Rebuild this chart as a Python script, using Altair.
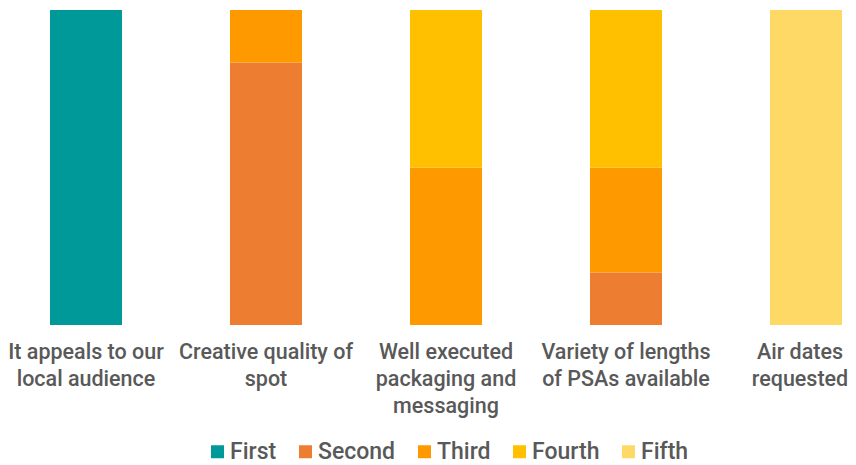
import altair as alt
import pandas as pd

categories = [
    "It appeals to our|local audience",
    "Creative quality of|spot",
    "Well executed|packaging and|messaging",
    "Variety of lengths|of PSAs available",
    "Air dates|requested",
]
ranks = ["First", "Second", "Third", "Fourth", "Fifth"]
colors = ["#009999", "#ED7D31", "#FF9900", "#FFC000", "#FFD966"]

# counts of responses per rank for each category
first = [6, 0, 0, 0, 0]
second = [0, 5, 0, 1, 0]
third = [0, 1, 3, 2, 0]
fourth = [0, 0, 3, 3, 0]
fifth = [0, 0, 0, 0, 6]

series = [first, second, third, fourth, fifth]
rows = []
for ri, (rank, vals) in enumerate(zip(ranks, series)):
    for cat, v in zip(categories, vals):
        if v > 0:
            rows.append({"category": cat, "rank": rank, "order": ri, "value": v})
df = pd.DataFrame(rows)

chart = alt.Chart(df).mark_bar().encode(
    x=alt.X(
        "category:N",
        sort=categories,
        scale=alt.Scale(paddingInner=0.6, paddingOuter=0.1333, align=0.875),
        axis=alt.Axis(
            title=None,
            labelAngle=0,
            labelExpr="split(datum.label, '|')",
            labelFont="Roboto",
            labelFontSize=21.5,
            labelFontWeight=500,
            labelColor="#595959",
            labelLineHeight=27,
            labelPadding=16,
            labelBaseline="top",
            labelLimit=300,
            labelOffset={
                "condition": {"test": "datum.value === 'Air dates|requested'", "value": -6},
                "value": 0,
            },
            domain=False,
            ticks=False,
            grid=False,
        ),
    ),
    y=alt.Y("value:Q", stack="normalize", axis=None),
    color=alt.Color(
        "rank:N",
        sort=ranks,
        scale=alt.Scale(domain=ranks, range=colors),
        legend=alt.Legend(
            title=None,
            orient="none",
            direction="horizontal",
            legendX=198,
            legendY=430,
            symbolType="square",
            symbolSize=169,
            symbolStrokeWidth=0,
            symbolOpacity=1,
            labelFont="Roboto",
            labelFontSize=23,
            labelFontWeight=500,
            labelColor="#595959",
            labelOffset=1,
            columnPadding=17,
            padding=0,
        ),
    ),
    order=alt.Order("order:Q", sort="ascending"),
).properties(
    width=840,
    height=315,
    autosize=alt.AutoSizeParams(type="none"),
    padding={"left": 0, "top": 2, "right": 0, "bottom": 140},
).configure_view(stroke=None)

chart.save("out.html", embed_options={"renderer": "svg", "actions": False})
